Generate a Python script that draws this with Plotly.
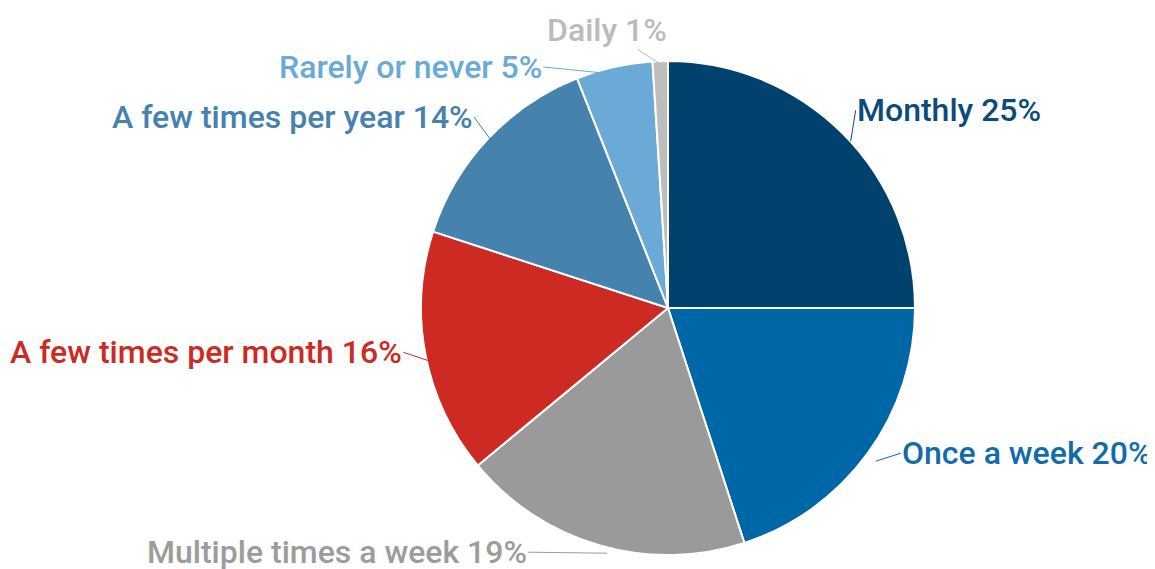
import math
import plotly.graph_objects as go

# data
labels = ['Monthly', 'Once a week', 'Multiple times a week', 'A few times per month',
          'A few times per year', 'Rarely or never', 'Daily']
values = [25, 20, 19, 16, 14, 5, 1]

slice_colors = ['#00416E', '#0067A7', '#9A9A9A', '#CC2A22', '#4682AE', '#6BAAD6', '#BDBDBD']
text_colors = ['#0B4B7B', '#136CAA', '#9C9C9C', '#CC2A22', '#4682AE', '#6AAAD6', '#BBBBBB']

# label placement: offset (px) from slice edge to text anchor, and anchor side
offsets = [(5, -31), (25, -8), (-79, -1), (-30, -10), (-22, -30), (-79, -8), (-61, -39)]
anchors = ['left', 'left', 'right', 'right', 'right', 'right', 'center']

W, H = 1155, 569
cx, cy, R = 668, 308, 247  # wanted pie centre / radius in pixels
dx, dy = -8, -8             # plotly draws the pie a bit off the domain centre

fig = go.Figure(go.Pie(
    labels=labels,
    values=values,
    sort=False,
    direction='clockwise',
    textinfo='none',
    hoverinfo='label+percent',
    marker=dict(colors=slice_colors, line=dict(color='white', width=2)),
    domain=dict(x=[(cx + dx - R) / W, (cx + dx + R) / W],
                y=[1 - (cy + dy + R) / H, 1 - (cy + dy - R) / H]),
))

total = sum(values)
cum = 0
for lab, v, col, (ax, ay), anc in zip(labels, values, text_colors, offsets, anchors):
    mid = (cum + v / 2) / total * 2 * math.pi
    cum += v
    px = cx + R * math.sin(mid)
    py = cy - R * math.cos(mid)
    fig.add_annotation(
        x=px / W, y=1 - py / H, xref='paper', yref='paper',
        text=f'{lab} {round(v / total * 100)}%',
        showarrow=True, arrowhead=0, arrowwidth=1, arrowcolor=col,
        ax=ax, ay=ay, standoff=0, borderpad=0, xanchor=anc,
        font=dict(family='Roboto', size=32, color=col, weight=500),
    )

fig.update_layout(
    width=W, height=H,
    margin=dict(l=0, r=0, t=0, b=0),
    showlegend=False,
    paper_bgcolor='white',
)

fig.write_html('out.html')
